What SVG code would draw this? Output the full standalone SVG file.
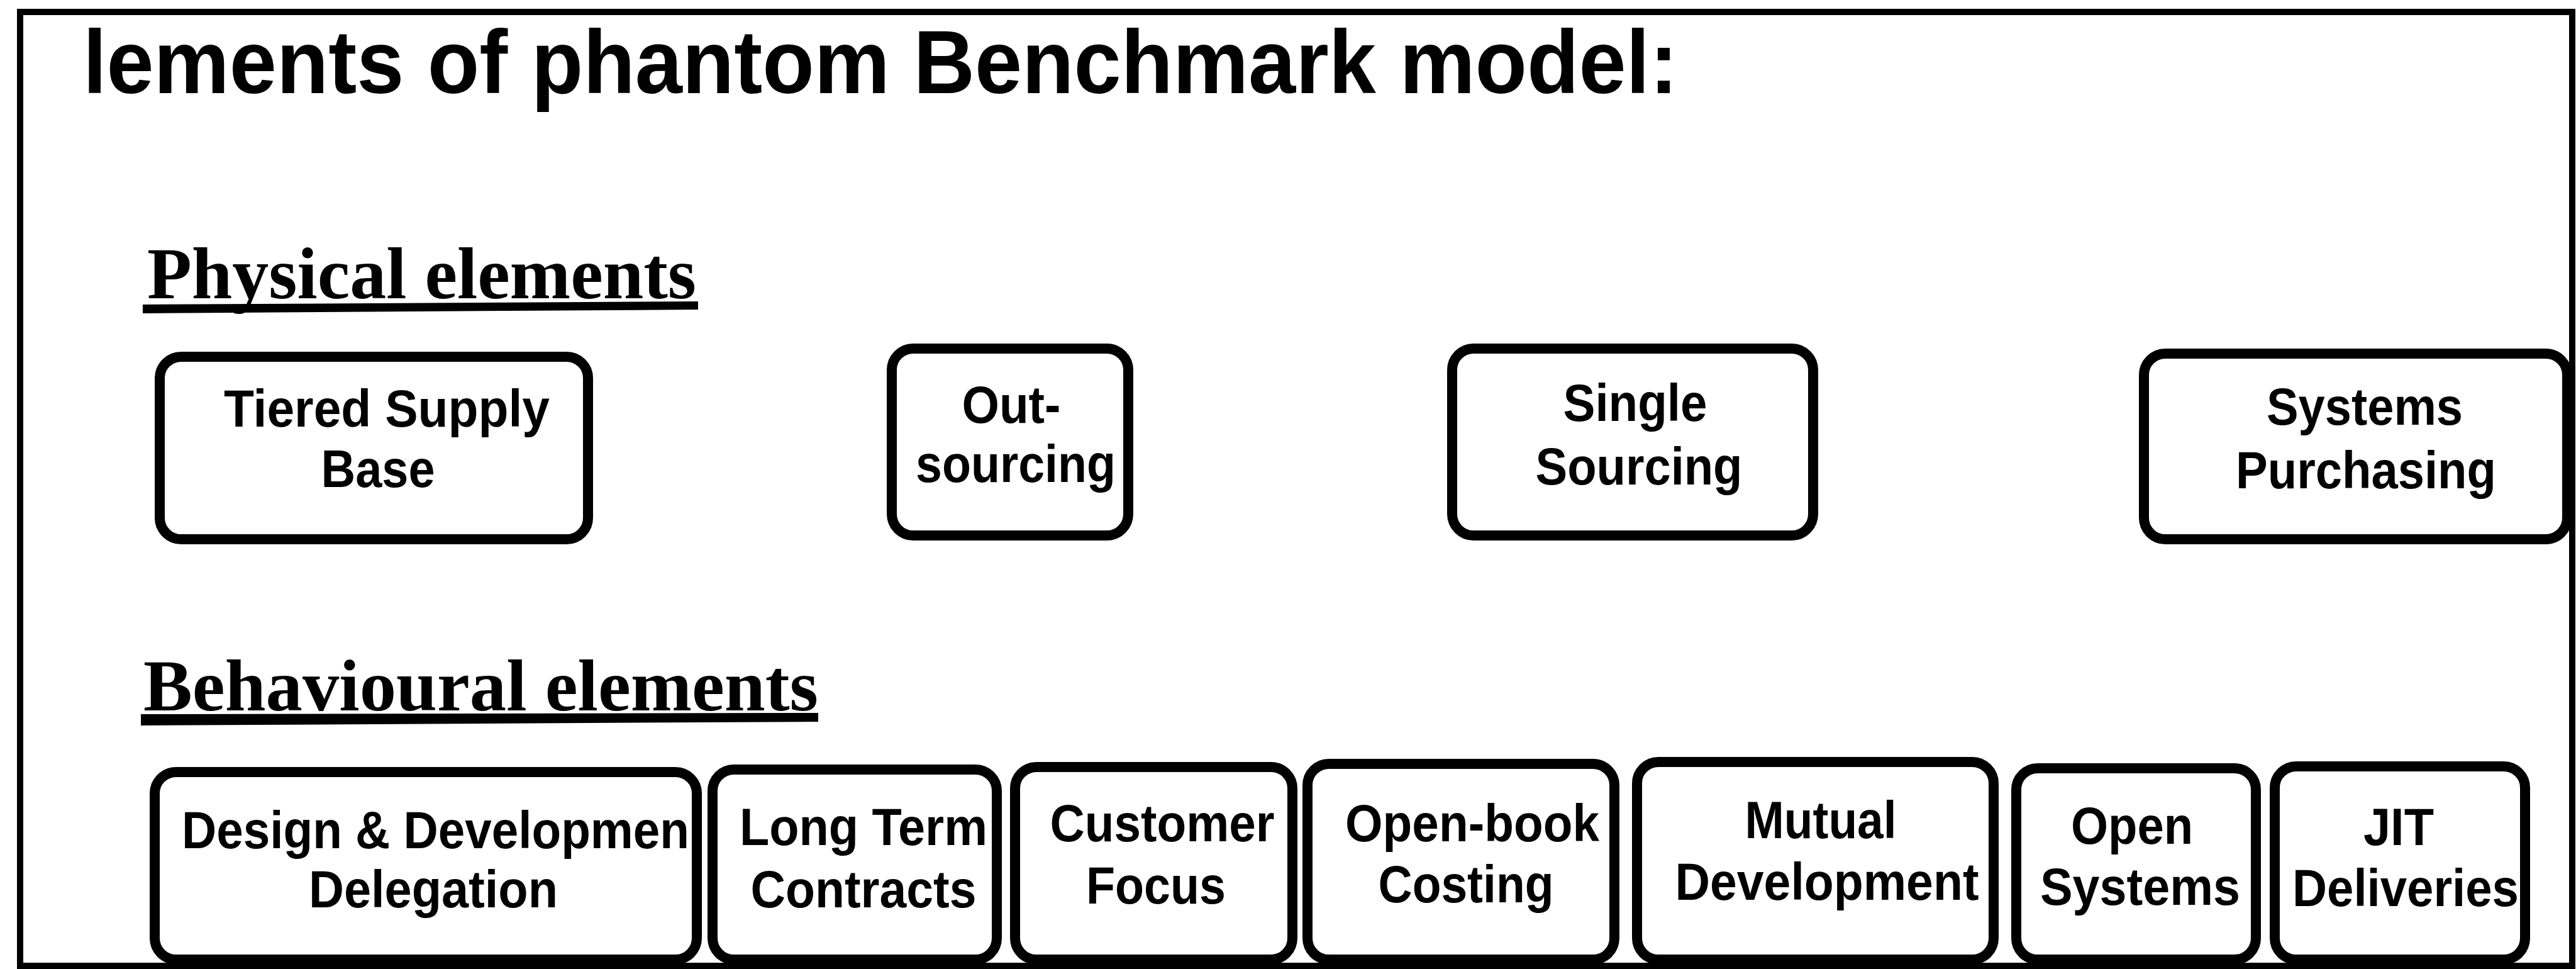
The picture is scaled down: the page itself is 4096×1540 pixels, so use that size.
<svg xmlns="http://www.w3.org/2000/svg" width="4096" height="1540" viewBox="0 0 4096 1540">
  <style>
    .frame { fill: none; stroke: #000; stroke-width: 10; }
    .box { fill: #fff; stroke: #000; stroke-width: 16; }
    .lbl { font-family: "Liberation Sans", Arial, sans-serif; font-weight: bold; font-size: 83px; fill: #000; text-anchor: middle; }
    .title { font-family: "Liberation Sans", Arial, sans-serif; font-weight: bold; font-size: 142px; fill: #000; }
    .head { font-family: "Liberation Serif", "Times New Roman", serif; font-weight: bold; font-size: 116px; fill: #000; }
  </style>
  <rect width="4096" height="1540" fill="#fff"/>

  <!-- outer frame -->
  <rect class="frame" x="32" y="19" width="4058" height="1516"/>

  <!-- title and section headings -->
  <text class="title" x="132" y="148" textLength="2536" lengthAdjust="spacingAndGlyphs">lements of phantom Benchmark model:</text>
  <text class="head" x="234" y="474" textLength="873" lengthAdjust="spacingAndGlyphs">Physical elements</text>
  <polygon points="227,484 1110,479 1110,492 227,498" fill="#000"/>
  <text class="head" x="228" y="1129" textLength="1073" lengthAdjust="spacingAndGlyphs">Behavioural elements</text>
  <polygon points="224,1135 1301,1133 1301,1147 224,1153" fill="#000"/>

  <!-- physical elements -->
  <g id="tiered-supply-base">
    <rect class="box" x="254" y="567" width="681" height="290" rx="34"/>
    <text class="lbl" x="615" y="678" textLength="518" lengthAdjust="spacingAndGlyphs">Tiered Supply</text>
    <text class="lbl" x="601" y="774" textLength="181" lengthAdjust="spacingAndGlyphs">Base</text>
  </g>
  <g id="out-sourcing">
    <rect class="box" x="1418" y="554" width="376" height="297" rx="34"/>
    <text class="lbl" x="1608" y="672" textLength="157" lengthAdjust="spacingAndGlyphs">Out-</text>
    <text class="lbl" x="1615" y="766" textLength="318" lengthAdjust="spacingAndGlyphs">sourcing</text>
  </g>
  <g id="single-sourcing">
    <rect class="box" x="2309" y="554" width="574" height="297" rx="34"/>
    <text class="lbl" x="2600" y="669" textLength="229" lengthAdjust="spacingAndGlyphs">Single</text>
    <text class="lbl" x="2606" y="770" textLength="329" lengthAdjust="spacingAndGlyphs">Sourcing</text>
  </g>
  <g id="systems-purchasing">
    <rect class="box" x="3409" y="562" width="673" height="295" rx="34"/>
    <text class="lbl" x="3760" y="675" textLength="312" lengthAdjust="spacingAndGlyphs">Systems</text>
    <text class="lbl" x="3762" y="776" textLength="414" lengthAdjust="spacingAndGlyphs">Purchasing</text>
  </g>

  <!-- behavioural elements -->
  <g id="design-development-delegation">
    <rect class="box" x="246" y="1227" width="862" height="298" rx="34"/>
    <text class="lbl" x="289" y="1348" style="text-anchor:start" textLength="807" lengthAdjust="spacingAndGlyphs">Design &amp; Developmen</text>
    <text class="lbl" x="689" y="1442" textLength="396" lengthAdjust="spacingAndGlyphs">Delegation</text>
  </g>
  <g id="long-term-contracts">
    <rect class="box" x="1133" y="1223" width="452" height="302" rx="34"/>
    <text class="lbl" x="1373" y="1343" textLength="394" lengthAdjust="spacingAndGlyphs">Long Term</text>
    <text class="lbl" x="1373" y="1442" textLength="359" lengthAdjust="spacingAndGlyphs">Contracts</text>
  </g>
  <g id="customer-focus">
    <rect class="box" x="1614" y="1219" width="441" height="306" rx="34"/>
    <text class="lbl" x="1848" y="1337" textLength="357" lengthAdjust="spacingAndGlyphs">Customer</text>
    <text class="lbl" x="1838" y="1436" textLength="222" lengthAdjust="spacingAndGlyphs">Focus</text>
  </g>
  <g id="open-book-costing">
    <rect class="box" x="2079" y="1214" width="488" height="311" rx="34"/>
    <text class="lbl" x="2341" y="1337" textLength="404" lengthAdjust="spacingAndGlyphs">Open-book</text>
    <text class="lbl" x="2331" y="1434" textLength="279" lengthAdjust="spacingAndGlyphs">Costing</text>
  </g>
  <g id="mutual-development">
    <rect class="box" x="2603" y="1211" width="567" height="314" rx="34"/>
    <text class="lbl" x="2895" y="1332" textLength="241" lengthAdjust="spacingAndGlyphs">Mutual</text>
    <text class="lbl" x="2905" y="1430" textLength="483" lengthAdjust="spacingAndGlyphs">Development</text>
  </g>
  <g id="open-systems">
    <rect class="box" x="3206" y="1221" width="381" height="304" rx="34"/>
    <text class="lbl" x="3390" y="1341" textLength="194" lengthAdjust="spacingAndGlyphs">Open</text>
    <text class="lbl" x="3403" y="1438" textLength="318" lengthAdjust="spacingAndGlyphs">Systems</text>
  </g>
  <g id="jit-deliveries">
    <rect class="box" x="3617" y="1218" width="398" height="307" rx="34"/>
    <text class="lbl" x="3814" y="1343" textLength="112" lengthAdjust="spacingAndGlyphs">JIT</text>
    <text class="lbl" x="3825" y="1440" textLength="360" lengthAdjust="spacingAndGlyphs">Deliveries</text>
  </g>

  <!-- no connectors are drawn between the elements -->
  <g id="connectors"/>
</svg>
